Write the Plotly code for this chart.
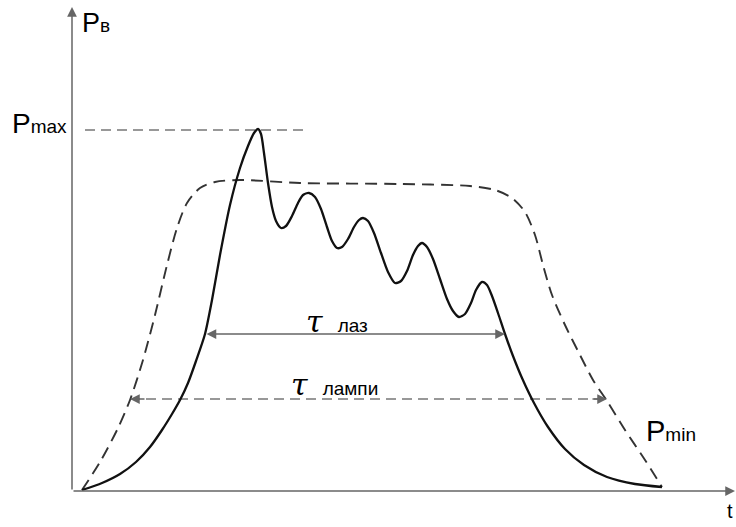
import plotly.graph_objects as go

# Laser output pulse (solid): time vs. power
laser_t = [10, 30, 48, 64, 78, 90, 100, 108, 116, 124, 133, 140, 148, 158, 168, 176, 182,
           186, 189, 192, 196, 200, 204, 209, 214, 220, 226, 231, 237, 243, 249, 255,
           260, 265, 270, 276, 282, 287, 291, 296, 302, 309, 316, 323, 329, 335, 341,
           346, 350, 355, 361, 368, 375, 381, 387, 393, 399, 404, 410, 415, 420, 426,
           433, 441, 450, 462, 476, 493, 512, 535, 563, 590]
laser_p = [1, 8, 17, 29, 44, 61, 77, 91, 108, 130, 157, 191, 236, 286, 323,
           345, 358, 362, 357, 338, 308, 284, 270, 263, 265, 275, 288, 296, 298, 294,
           282, 264, 250, 243, 244, 252, 264, 271, 273, 270, 258, 238, 219, 208, 210,
           220, 236, 245, 248, 244, 232, 212, 192, 180, 174, 177, 188, 201, 209, 206,
           195, 178, 157, 135, 113, 88, 64, 42, 26, 14, 7, 4]

# Pump lamp pulse (dashed)
lamp_t = [10, 28, 46, 58, 71, 83, 95, 105, 115, 128, 143, 168, 228, 328, 398, 423,
          440, 453, 463, 471, 480, 493, 508, 521, 535, 553, 573, 590]
lamp_p = [1, 29, 63, 91, 131, 176, 226, 263, 288, 303, 309, 311, 308, 307, 305, 301,
          293, 279, 256, 226, 196, 166, 136, 111, 90, 61, 31, 4]

# Reference levels and duration markers
p_max = 361
p_max_span = [13, 233]
tau_laz_level = 157
tau_laz_span = [133, 433]
tau_lamp_level = 92
tau_lamp_span = [58, 535]

AXIS = "#666666"
DASH = "10px,6px"
TXT = "Liberation Sans, Arial, sans-serif"

fig = go.Figure()

# P_max guide line
fig.add_trace(go.Scatter(x=p_max_span, y=[p_max, p_max], mode="lines",
                         line=dict(color="#777777", width=1.5, dash=DASH)))

# lamp duration line (dashed)
fig.add_trace(go.Scatter(x=tau_lamp_span, y=[tau_lamp_level] * 2, mode="lines",
                         line=dict(color="#777777", width=1.5, dash=DASH)))

# lamp pulse
fig.add_trace(go.Scatter(x=lamp_t, y=lamp_p, mode="lines",
                         line=dict(color="#333333", width=1.9, dash="12px,7px",
                                   shape="spline", smoothing=0.8)))

# laser pulse
fig.add_trace(go.Scatter(x=laser_t, y=laser_p, mode="lines",
                         line=dict(color="#111111", width=2.3,
                                   shape="spline", smoothing=0.7)))

ann = []


def arrow(x0, y0, x1, y1, color=AXIS, width=1.5, size=1.3):
    ann.append(dict(x=x1, y=y1, ax=x0, ay=y0, xref="x", yref="y", axref="x", ayref="y",
                    showarrow=True, arrowhead=2, arrowsize=size, arrowwidth=width,
                    arrowcolor=color, text=""))


# coordinate axes
arrow(0, 0, 0, 484)
arrow(0, 0, 663, 0)

# laser duration: double arrow
ann.append(dict(x=tau_laz_span[1], y=tau_laz_level, ax=tau_laz_span[0], ay=tau_laz_level,
                xref="x", yref="y", axref="x", ayref="y", showarrow=True,
                arrowhead=2, startarrowhead=2, arrowside="end+start",
                arrowsize=1.3, startarrowsize=1.3, arrowwidth=1.5,
                arrowcolor=AXIS, text=""))

# lamp duration: arrowheads on the dashed line
arrow(tau_lamp_span[0] + 16, tau_lamp_level, tau_lamp_span[0], tau_lamp_level)
arrow(tau_lamp_span[1] - 16, tau_lamp_level, tau_lamp_span[1], tau_lamp_level)


def label(x, y, text, size=27, anchor="left"):
    ann.append(dict(x=x, y=y, xref="x", yref="y", text=text, showarrow=False,
                    xanchor=anchor, yanchor="middle",
                    font=dict(family=TXT, size=size, color="#000000")))


small = '<span style="font-size:19px">{}</span>'
tau = '<span style="font-family:DejaVu Serif;font-style:italic;font-size:30px">τ</span>'

label(8, 468, "P" + small.format("в"))
label(-62, 368, "P" + small.format("max"), size=28)
label(572, 60, "P" + small.format("min"), size=29)
label(232, 170, tau + "  " + small.format("лаз"))
label(217, 107, tau + "  " + small.format("лампи"))
label(663, -20, "t", size=20, anchor="right")

fig.update_layout(
    width=736, height=527,
    margin=dict(l=0, r=0, t=0, b=0),
    paper_bgcolor="white", plot_bgcolor="white",
    showlegend=False,
    xaxis=dict(range=[-72, 664], visible=False, fixedrange=True),
    yaxis=dict(range=[-36, 491], visible=False, fixedrange=True),
    annotations=ann,
)

fig.write_html("out.html")
